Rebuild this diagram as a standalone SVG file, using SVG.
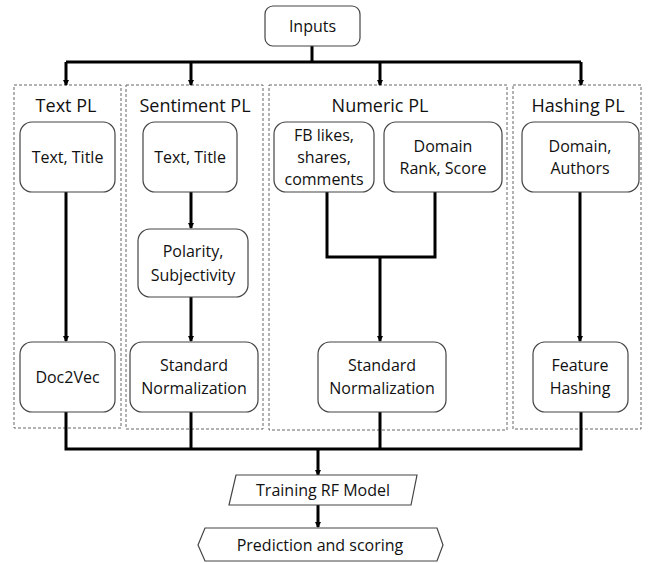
<svg xmlns="http://www.w3.org/2000/svg" width="652" height="563" viewBox="0 0 652 563">
<defs>
<marker id="ah" viewBox="0 0 6 6" refX="5" refY="3" markerWidth="6" markerHeight="6" markerUnits="userSpaceOnUse" orient="auto">
<path d="M0,0 L6,3 L0,6 z" fill="#000"/>
</marker>
</defs>
<style>
.node{fill:#fff;stroke:#444;stroke-width:1.2}
.pl{fill:none;stroke:#666;stroke-width:1;stroke-dasharray:3,2}
.t{font-family:"Open Sans","Liberation Sans",sans-serif;font-size:16px;fill:#111;text-anchor:middle}
.h{font-family:"Open Sans","Liberation Sans",sans-serif;font-size:18px;fill:#111;text-anchor:middle}
.c{fill:none;stroke:#000;stroke-width:3}
.a{fill:none;stroke:#000;stroke-width:3;marker-end:url(#ah)}
</style>
<rect width="652" height="563" fill="#fff"/>
<g id="pl-text"><rect class="pl" x="14" y="85" width="107" height="343"/><text class="h" x="66" y="112">Text PL</text></g>
<g id="pl-sentiment"><rect class="pl" x="126" y="85" width="137" height="344"/><text class="h" x="195" y="112">Sentiment PL</text></g>
<g id="pl-numeric"><rect class="pl" x="269" y="85" width="238" height="345"/><text class="h" x="380" y="112">Numeric PL</text></g>
<g id="pl-hashing"><rect class="pl" x="513" y="85" width="128" height="344"/><text class="h" x="578" y="112">Hashing PL</text></g>
<g id="connectors">
<path class="c" d="M312,46 V62 M66,62 H581"/>
<path class="a" d="M66,62 V85"/>
<path class="a" d="M191,62 V85"/>
<path class="a" d="M380,62 V85"/>
<path class="a" d="M581,62 V85"/>
<path class="a" d="M66,192 V341"/>
<path class="a" d="M191,192 V228"/>
<path class="a" d="M191,297 V341"/>
<path class="c" d="M327,192 V257 H435 V192"/>
<path class="a" d="M380,257 V341"/>
<path class="a" d="M580,192 V341"/>
<path class="c" d="M66,412 V449 M191,412 V449 M380,412 V449 M581,412 V449 M64.5,449 H582.5"/>
<path class="a" d="M318,449 V475"/>
<path class="a" d="M318,505 V527"/>
</g>
<g id="inputs"><rect class="node" x="265" y="6" width="95" height="40" rx="8"/><text class="t" x="312.5" y="32">Inputs</text></g>
<g id="text-title-1"><rect class="node" x="20" y="122" width="95" height="70" rx="12"/><text class="t" x="67.5" y="163">Text, Title</text></g>
<g id="doc2vec"><rect class="node" x="20" y="342" width="95" height="70" rx="12"/><text class="t" x="67.5" y="383">Doc2Vec</text></g>
<g id="text-title-2"><rect class="node" x="143" y="122" width="94" height="70" rx="12"/><text class="t" x="190" y="163">Text, Title</text></g>
<g id="polarity"><rect class="node" x="138" y="229" width="110" height="68" rx="12"/><text class="t" x="193" y="257">Polarity,</text><text class="t" x="193" y="281">Subjectivity</text></g>
<g id="stdnorm-1"><rect class="node" x="130" y="342" width="128" height="70" rx="12"/><text class="t" x="194" y="371">Standard</text><text class="t" x="194" y="394">Normalization</text></g>
<g id="fb"><rect class="node" x="274" y="122" width="100" height="70" rx="12"/><text class="t" x="324" y="141">FB likes,</text><text class="t" x="324" y="163">shares,</text><text class="t" x="324" y="185">comments</text></g>
<g id="domain-rank"><rect class="node" x="384" y="122" width="118" height="70" rx="12"/><text class="t" x="443" y="152">Domain</text><text class="t" x="443" y="174">Rank, Score</text></g>
<g id="stdnorm-2"><rect class="node" x="318" y="342" width="128" height="70" rx="12"/><text class="t" x="382" y="371">Standard</text><text class="t" x="382" y="394">Normalization</text></g>
<g id="domain-authors"><rect class="node" x="522" y="122" width="117" height="70" rx="12"/><text class="t" x="580" y="152">Domain,</text><text class="t" x="580" y="174">Authors</text></g>
<g id="feature-hashing"><rect class="node" x="533" y="342" width="95" height="70" rx="12"/><text class="t" x="580" y="371">Feature</text><text class="t" x="580" y="394">Hashing</text></g>
<g id="training"><path class="node" d="M236,475 H417 L411,505 H229 Z"/><text class="t" x="323" y="496">Training RF Model</text></g>
<g id="prediction"><path class="node" d="M205,528 H437 L443,545 L437,561 H205 L198,545 Z"/><text class="t" x="320" y="551">Prediction and scoring</text></g>
</svg>
